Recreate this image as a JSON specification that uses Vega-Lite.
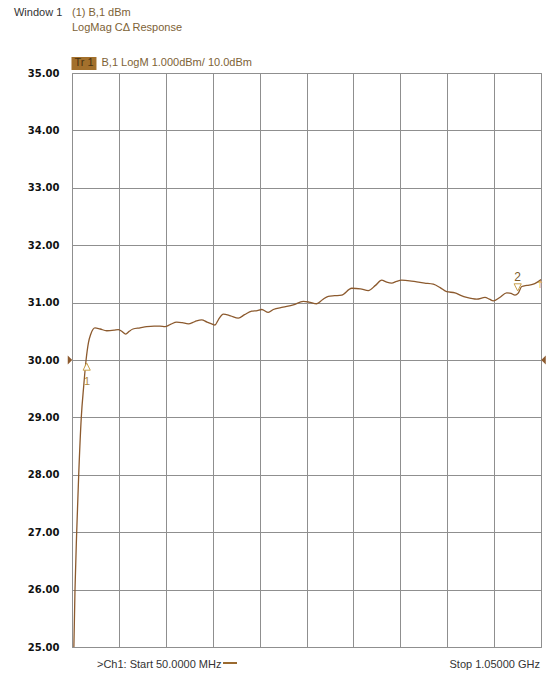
{
  "$schema": "https://vega.github.io/schema/vega-lite/v6.json",
  "width": 469,
  "height": 574,
  "autosize": {"type": "none"},
  "padding": {"left": 72, "top": 73, "right": 5, "bottom": 26},
  "background": "white",
  "config": {
    "view": {"stroke": "#8a8a8a", "strokeWidth": 1},
    "axis": {"gridColor": "#8f8f8f", "gridOpacity": 1, "gridWidth": 1}
  },
  "datasets": {
    "trace": [
      {"f": 54, "v": 25.0}, {"f": 56.4, "v": 26.0}, {"f": 60, "v": 27.0}, {"f": 64.3, "v": 28.0},
      {"f": 69.8, "v": 29.0}, {"f": 75, "v": 29.55}, {"f": 80, "v": 30.0}, {"f": 85, "v": 30.3},
      {"f": 90, "v": 30.45}, {"f": 99, "v": 30.56}, {"f": 110, "v": 30.54}, {"f": 124, "v": 30.51},
      {"f": 140, "v": 30.52}, {"f": 148.7, "v": 30.53}, {"f": 156, "v": 30.5}, {"f": 164.5, "v": 30.45},
      {"f": 172, "v": 30.5}, {"f": 180, "v": 30.54}, {"f": 195, "v": 30.56}, {"f": 209, "v": 30.58},
      {"f": 225, "v": 30.59}, {"f": 237.6, "v": 30.59}, {"f": 248.3, "v": 30.58}, {"f": 260, "v": 30.62},
      {"f": 273.2, "v": 30.66}, {"f": 285, "v": 30.65}, {"f": 298, "v": 30.63}, {"f": 312, "v": 30.67},
      {"f": 326.5, "v": 30.7}, {"f": 338, "v": 30.66}, {"f": 347.9, "v": 30.63}, {"f": 354.9, "v": 30.61},
      {"f": 362, "v": 30.7}, {"f": 372.6, "v": 30.8}, {"f": 388, "v": 30.77}, {"f": 404.6, "v": 30.73},
      {"f": 418, "v": 30.79}, {"f": 433.2, "v": 30.85}, {"f": 445, "v": 30.86}, {"f": 454.5, "v": 30.88},
      {"f": 468.6, "v": 30.83}, {"f": 479.2, "v": 30.88}, {"f": 500, "v": 30.92}, {"f": 521.9, "v": 30.96},
      {"f": 543.2, "v": 31.02}, {"f": 555, "v": 31.01}, {"f": 571.7, "v": 30.98}, {"f": 584, "v": 31.05},
      {"f": 596.5, "v": 31.11}, {"f": 610, "v": 31.12}, {"f": 625, "v": 31.13}, {"f": 646.4, "v": 31.25},
      {"f": 665, "v": 31.24}, {"f": 681.8, "v": 31.21}, {"f": 697, "v": 31.3}, {"f": 710.3, "v": 31.39},
      {"f": 720, "v": 31.36}, {"f": 731.7, "v": 31.34}, {"f": 742, "v": 31.37}, {"f": 753, "v": 31.39},
      {"f": 770, "v": 31.38}, {"f": 785, "v": 31.36}, {"f": 802, "v": 31.34}, {"f": 820.4, "v": 31.32},
      {"f": 835, "v": 31.26}, {"f": 849, "v": 31.19}, {"f": 866.6, "v": 31.17}, {"f": 880, "v": 31.12},
      {"f": 891.6, "v": 31.09}, {"f": 912.9, "v": 31.06}, {"f": 930.6, "v": 31.09}, {"f": 940, "v": 31.06},
      {"f": 948.3, "v": 31.03}, {"f": 962, "v": 31.09}, {"f": 976.9, "v": 31.17}, {"f": 986, "v": 31.16},
      {"f": 994.6, "v": 31.13}, {"f": 1001, "v": 31.16}, {"f": 1008.9, "v": 31.28}, {"f": 1020, "v": 31.3},
      {"f": 1033.6, "v": 31.32}, {"f": 1050, "v": 31.4}
    ]
  },
  "layer": [
    {
      "data": {"name": "trace"},
      "mark": {"type": "line", "color": "#8c5a2e", "strokeWidth": 1.3, "interpolate": "monotone"},
      "encoding": {
        "x": {
          "field": "f", "type": "quantitative",
          "scale": {"domain": [50, 1050], "nice": false, "zero": false},
          "axis": {"values": [50, 150, 250, 350, 450, 550, 650, 750, 850, 950, 1050], "grid": true, "labels": false, "ticks": false, "domain": false, "title": null}
        },
        "y": {
          "field": "v", "type": "quantitative",
          "scale": {"domain": [25, 35], "nice": false, "zero": false},
          "axis": {
            "values": [25, 26, 27, 28, 29, 30, 31, 32, 33, 34, 35], "format": ".2f",
            "grid": true, "ticks": false, "domain": false, "title": null,
            "labelFont": "DejaVu Sans", "labelFontWeight": "bold", "labelFontSize": 10,
            "labelColor": "#111111", "labelPadding": 13
          }
        }
      }
    },
    {
      "data": {"values": [{"t": "Window 1"}]},
      "mark": {"type": "text", "align": "left", "baseline": "middle", "font": "Liberation Sans", "fontSize": 11, "color": "#333333"},
      "encoding": {"x": {"datum": -73.7}, "y": {"datum": 36.045}, "text": {"field": "t"}}
    },
    {
      "data": {"values": [{"t": "(1) B,1 dBm"}]},
      "mark": {"type": "text", "align": "left", "baseline": "middle", "font": "Liberation Sans", "fontSize": 11, "color": "#7d6236"},
      "encoding": {"x": {"datum": 50}, "y": {"datum": 36.045}, "text": {"field": "t"}}
    },
    {
      "data": {"values": [{"t": "LogMag CΔ Response"}]},
      "mark": {"type": "text", "align": "left", "baseline": "middle", "font": "Liberation Sans", "fontSize": 11, "color": "#7d6236"},
      "encoding": {"x": {"datum": 50}, "y": {"datum": 35.784}, "text": {"field": "t"}}
    },
    {
      "data": {"values": [{"t": "box"}]},
      "mark": {"type": "rect", "color": "#a3702c"},
      "encoding": {"x": {"datum": 48.9}, "x2": {"datum": 102.2}, "y": {"datum": 35.279}, "y2": {"datum": 35.052}}
    },
    {
      "data": {"values": [{"t": "Tr 1"}]},
      "mark": {"type": "text", "align": "center", "baseline": "middle", "font": "Liberation Sans", "fontSize": 11, "color": "#4a3210"},
      "encoding": {"x": {"datum": 75.6}, "y": {"datum": 35.166}, "text": {"field": "t"}}
    },
    {
      "data": {"values": [{"t": "B,1 LogM 1.000dBm/ 10.0dBm"}]},
      "mark": {"type": "text", "align": "left", "baseline": "middle", "font": "Liberation Sans", "fontSize": 11, "color": "#7d6236"},
      "encoding": {"x": {"datum": 112.9}, "y": {"datum": 35.166}, "text": {"field": "t"}}
    },
    {
      "data": {"values": [{"t": ">Ch1: Start  50.0000 MHz"}]},
      "mark": {"type": "text", "align": "left", "baseline": "middle", "font": "Liberation Sans", "fontSize": 11, "color": "#333333"},
      "encoding": {"x": {"datum": 103.3}, "y": {"datum": 24.686}, "text": {"field": "t"}}
    },
    {
      "data": {"values": [{"t": "dash"}]},
      "mark": {"type": "rule", "color": "#9a6a30", "strokeWidth": 2},
      "encoding": {"x": {"datum": 372}, "x2": {"datum": 401.8}, "y": {"datum": 24.721}}
    },
    {
      "data": {"values": [{"t": "Stop  1.05000 GHz"}]},
      "mark": {"type": "text", "align": "right", "baseline": "middle", "font": "Liberation Sans", "fontSize": 11, "color": "#333333"},
      "encoding": {"x": {"datum": 1047.9}, "y": {"datum": 24.686}, "text": {"field": "t"}}
    },
    {
      "data": {"values": [{"t": "refL"}]},
      "mark": {"type": "point", "shape": "M-0.5,-1L0.5,0L-0.5,1Z", "size": 81, "filled": true, "color": "#8c5a2e", "opacity": 1},
      "encoding": {"x": {"datum": 45.7}, "y": {"datum": 30}}
    },
    {
      "data": {"values": [{"t": "refR"}]},
      "mark": {"type": "point", "shape": "M0.5,-1L-0.5,0L0.5,1Z", "size": 81, "filled": true, "color": "#8c5a2e", "opacity": 1},
      "encoding": {"x": {"datum": 1055.3}, "y": {"datum": 30}}
    },
    {
      "data": {"values": [{"t": "m1"}]},
      "mark": {"type": "point", "shape": "M0,-1L0.9,0.8L-0.9,0.8Z", "size": 64, "filled": false, "stroke": "#c9a04a", "fill": "white", "strokeWidth": 1, "opacity": 1},
      "encoding": {"x": {"datum": 81.3}, "y": {"datum": 29.878}}
    },
    {
      "data": {"values": [{"t": "1"}]},
      "mark": {"type": "text", "align": "center", "baseline": "middle", "font": "Liberation Sans", "fontSize": 11, "color": "#b08a3a"},
      "encoding": {"x": {"datum": 82.2}, "y": {"datum": 29.62}, "text": {"field": "t"}}
    },
    {
      "data": {"values": [{"t": "m2"}]},
      "mark": {"type": "point", "shape": "M0,1L0.9,-0.8L-0.9,-0.8Z", "size": 64, "filled": false, "stroke": "#c9a04a", "fill": "white", "strokeWidth": 1, "opacity": 1},
      "encoding": {"x": {"datum": 1000.3}, "y": {"datum": 31.272}}
    },
    {
      "data": {"values": [{"t": "2"}]},
      "mark": {"type": "text", "align": "center", "baseline": "middle", "font": "Liberation Sans", "fontSize": 12, "color": "#7a5a2a"},
      "encoding": {"x": {"datum": 1000.3}, "y": {"datum": 31.446}, "text": {"field": "t"}}
    },
    {
      "data": {"values": [{"t": "↑"}]},
      "mark": {"type": "text", "align": "center", "baseline": "middle", "font": "DejaVu Sans", "fontSize": 10, "color": "#e0b050"},
      "encoding": {"x": {"datum": 1048}, "y": {"datum": 31.31}, "text": {"field": "t"}}
    }
  ]
}
